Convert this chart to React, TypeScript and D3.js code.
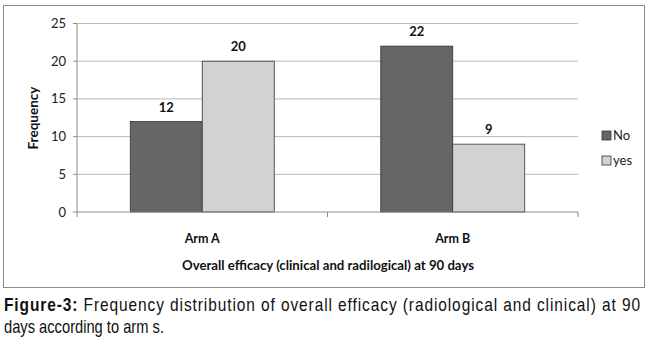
import React, { useEffect } from 'react';
import * as d3 from 'd3';

// Chart data
const categories = ['Arm A', 'Arm B'];
const series = ['No', 'yes'];
const noValues = [12, 22];
const yesValues = [20, 9];
const yTicks = [0, 5, 10, 15, 20, 25];

const seriesColors = ['#666666', '#d2d2d2'];

const App: React.FC = () => {
    useEffect(() => {
        document.body.style.margin = '0';
    }, []);

    const width = 650;
    const height = 351;
    const plot = { left: 77, right: 578, top: 23.5, bottom: 212 };

    const y = d3.scaleLinear().domain([0, 25]).range([plot.bottom, plot.top]);
    const x0 = d3
        .scaleBand()
        .domain(categories)
        .range([plot.left, plot.right])
        .padding(0);
    const x1 = d3
        .scaleBand()
        .domain(series)
        .range([0, x0.bandwidth()])
        .paddingInner(0)
        .paddingOuter(0.74);

    const rows = categories.map((c, i) => ({
        cat: c,
        values: [noValues[i], yesValues[i]],
    }));

    const chartFont = 'Lato, "Open Sans", sans-serif';
    const captionFont = '"Liberation Sans", sans-serif';
    // the caption font is condensed in the original, squeeze it horizontally
    const capScale = 0.86;

    return (
        <svg width={width} height={height} style={{ display: 'block', background: '#fff' }}>
            {/* outer border of the chart */}
            <rect x={3.5} y={5.5} width={641} height={282} fill="#fff" stroke="#8c8c8c" strokeWidth={1} />

            {/* gridlines */}
            {yTicks.filter((t) => t > 0).map((t) => (
                <line key={t} x1={plot.left} x2={plot.right} y1={y(t)} y2={y(t)} stroke="#b8b8b8" strokeWidth={1} />
            ))}

            {/* y axis */}
            <line x1={plot.left} x2={plot.left} y1={plot.top} y2={plot.bottom} stroke="#8c8c8c" />
            {yTicks.map((t) => (
                <g key={t}>
                    <line x1={plot.left - 4} x2={plot.left} y1={y(t)} y2={y(t)} stroke="#8c8c8c" />
                    <text
                        x={plot.left - 11}
                        y={y(t)}
                        dy="0.35em"
                        textAnchor="end"
                        fontFamily={chartFont}
                        fontSize={13}
                        fill="#222"
                    >
                        {t}
                    </text>
                </g>
            ))}

            {/* bars */}
            {rows.map((r) => (
                <g key={r.cat} transform={`translate(${x0(r.cat)},0)`}>
                    {r.values.map((v, j) => (
                        <g key={series[j]}>
                            <rect
                                x={x1(series[j])}
                                y={y(v)}
                                width={x1.bandwidth()}
                                height={plot.bottom - y(v)}
                                fill={seriesColors[j]}
                                stroke="#333"
                                strokeWidth={0.8}
                            />
                            <text
                                x={(x1(series[j]) || 0) + x1.bandwidth() / 2}
                                y={y(v) - 10}
                                textAnchor="middle"
                                fontFamily={chartFont}
                                fontWeight="bold"
                                fontSize={13}
                                fill="#111"
                            >
                                {v}
                            </text>
                        </g>
                    ))}
                </g>
            ))}

            {/* x axis */}
            <line x1={plot.left} x2={plot.right} y1={plot.bottom} y2={plot.bottom} stroke="#8c8c8c" />
            {[...categories.map((c) => x0(c) || 0), plot.right].map((px, i) => (
                <line key={i} x1={px} x2={px} y1={plot.bottom} y2={plot.bottom + 5} stroke="#8c8c8c" />
            ))}
            {categories.map((c) => (
                <text
                    key={c}
                    x={(x0(c) || 0) + x0.bandwidth() / 2}
                    y={243}
                    textAnchor="middle"
                    fontFamily={chartFont}
                    fontWeight="bold"
                    fontSize={12.5}
                    fill="#111"
                >
                    {c}
                </text>
            ))}

            {/* axis titles */}
            <text
                x={328}
                y={270}
                textAnchor="middle"
                fontFamily={chartFont}
                fontWeight="bold"
                fontSize={13}
                fill="#111"
                textLength={292}
                lengthAdjust="spacingAndGlyphs"
            >
                Overall efficacy (clinical and radilogical) at 90 days
            </text>
            <text
                transform={`translate(38,${118}) rotate(-90)`}
                textAnchor="middle"
                fontFamily={chartFont}
                fontWeight="bold"
                fontSize={13.5}
                fill="#111"
                textLength={63}
                lengthAdjust="spacingAndGlyphs"
            >
                Frequency
            </text>

            {/* legend */}
            {series.map((s, i) => (
                <g key={s} transform={`translate(602,${131 + i * 25})`}>
                    <rect x={0} y={0} width={9} height={9} fill={seriesColors[i]} stroke="#333" strokeWidth={0.8} />
                    <text x={11} y={9} fontFamily={chartFont} fontSize={13} fill="#222">
                        {s}
                    </text>
                </g>
            ))}

            {/* caption */}
            <g transform={`translate(4,0) scale(${capScale},1)`}>
                <text x={0} y={311} fontFamily={captionFont} fontSize={18} fill="#111" textLength={636 / capScale} lengthAdjust="spacing">
                    <tspan fontWeight="bold">Figure-3:</tspan> Frequency distribution of overall efficacy (radiological and clinical) at 90
                </text>
                <text x={0} y={333} fontFamily={captionFont} fontSize={18} fill="#111" textLength={160 / capScale} lengthAdjust="spacingAndGlyphs">
                    days according to arm s.
                </text>
            </g>
        </svg>
    );
};

export default App;
